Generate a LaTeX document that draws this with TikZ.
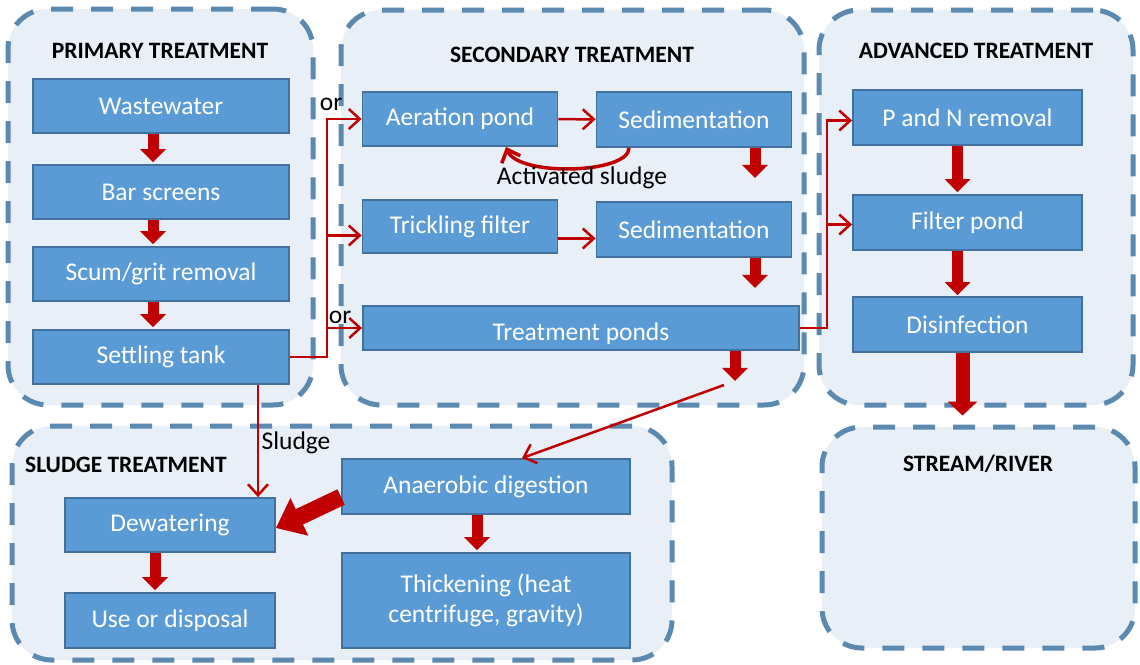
\documentclass[tikz,border=0pt]{standalone}
\usepackage{fontspec}
\setmainfont{Carlito}
\usetikzlibrary{arrows.meta}
\definecolor{zoneline}{RGB}{91,137,176}
\definecolor{zonefill}{RGB}{233,239,247}
\definecolor{boxfill}{RGB}{91,155,213}
\definecolor{boxline}{RGB}{65,113,156}
\definecolor{flowred}{RGB}{192,0,0}
\tikzset{>=stealth,
  zone/.style={draw=zoneline, fill=zonefill, line width=5pt, dash pattern=on 22pt off 18pt, rounded corners=40pt, inner sep=0pt},
  zonetitle/.style={font=\bfseries\fontsize{23.5}{28}\selectfont},
  box/.style={draw=boxline, fill=boxfill, line width=1.8pt, text=white, align=center, inner sep=0pt, font=\fontsize{25.5}{30}\selectfont},
  note/.style={font=\fontsize{25.5}{30}\selectfont},
  flow/.style={flowred, line width=2.5pt, -{Straight Barb[length=11pt,width=20pt]}},
  block/.style={flowred, line width=11pt, -{Triangle[width=25pt,length=13pt]}},
  bigblock/.style={flowred, line width=17pt, -{Triangle[width=40pt,length=26pt]}}}

\begin{document}
\begin{tikzpicture}[x=1pt,y=-1pt]
    \useasboundingbox (0,0) rectangle (1140,664);
    \node[zone, minimum width=305pt, minimum height=396pt] (primary) at (160.5,207) {};
    \node[zone, minimum width=463pt, minimum height=395pt] (secondary) at (572.5,207.5) {};
    \node[zone, minimum width=314pt, minimum height=395pt] (advanced) at (976,207.5) {};
    \node[zone, minimum width=660pt, minimum height=234pt] (sludge) at (342,543) {};
    \node[zone, minimum width=313pt, minimum height=221pt] (stream) at (978.5,537.5) {};
    \node[zonetitle] at (160,51) {PRIMARY TREATMENT};
    \node[zonetitle] at (572,55) {SECONDARY TREATMENT};
    \node[zonetitle] at (976,51) {ADVANCED TREATMENT};
    \node[zonetitle] at (126,465) {SLUDGE TREATMENT};
    \node[zonetitle] at (978,464) {STREAM/RIVER};

    \node[box, minimum width=256pt, minimum height=54pt] (waste) at (161,106) {Wastewater};
    \node[box, minimum width=256pt, minimum height=54pt] (bar) at (161,192) {Bar screens};
    \node[box, minimum width=256pt, minimum height=54pt] (scum) at (161,274) {Scum/grit removal};
    \node[box, minimum width=256pt, minimum height=54pt] (settle) at (161,357) {Settling tank};
    \node[box, minimum width=195pt, minimum height=54pt] (aeration) at (460,119) {Aeration pond};
    \node[box, minimum width=195pt, minimum height=55pt] (sed1) at (694,119.5) {Sedimentation};
    \node[box, minimum width=195pt, minimum height=53pt] (trickle) at (460,226.5) {Trickling filter};
    \node[box, minimum width=195pt, minimum height=55pt] (sed2) at (694,229.5) {Sedimentation};
    \node[box, minimum width=436pt, minimum height=44pt] (ponds) at (581,328) {};
    \begin{scope}
      \clip ([shift={(1pt,6pt)}]ponds.south west) rectangle (ponds.north east);
      \node[box, draw=none, fill=none] (pondstext) at ([yshift=-6pt]ponds.center) {Treatment ponds};
    \end{scope}
    \node[box, minimum width=229pt, minimum height=55pt] (pn) at (967.5,117.5) {P and N removal};
    \node[box, minimum width=229pt, minimum height=55pt] (filter) at (967.5,222.5) {Filter pond};
    \node[box, minimum width=229pt, minimum height=55pt] (disinf) at (967.5,324.5) {Disinfection};
    \node[box, minimum width=288pt, minimum height=55pt] (anaer) at (486,486.5) {Anaerobic digestion};
    \node[box, minimum width=210pt, minimum height=54pt] (dewater) at (170,525) {Dewatering};
    \node[box, minimum width=210pt, minimum height=55pt] (use) at (170,620.5) {Use or disposal};
    \node[box, minimum width=288pt, minimum height=95pt] (thick) at (486,600.5) {Thickening (heat\\centrifuge, gravity)};

    \coordinate (split1) at ([xshift=37pt]settle.east);
    \coordinate (split2) at ([xshift=27pt]ponds.east);
    \coordinate (pondsout) at (724,385);
    \coordinate (streamin) at ([yshift=9pt]stream.north);
    \draw[flow] (settle.east) -- (split1) |- (aeration.west);
    \draw[flow] ([yshift=-9pt]trickle.west -| split1) -- ([yshift=-9pt]trickle.west);
    \draw[flow] (split1 |- ponds.west) -- (ponds.west);
    \node[note] (or1) at (331,104) {or};
    \node[note] (or2) at (340,317) {or};
    \draw[flow] (aeration) -- (sed1);
    \draw[flow] ([yshift=-12pt]trickle.east) -- ([yshift=-12pt]trickle.east -| sed2.west);
    \draw[flow, line width=3.5pt] ([xshift=-65pt]sed1.south) .. controls +(0,26) and +(12,30) .. ([xshift=46pt]aeration.south);
    \node[note] (actsludge) at (582,178) {Activated sludge};
    \draw[flow] (ponds.east) -- (split2) |- ([yshift=-3pt]pn.west);
    \draw[flow] ([yshift=-2pt]split2 |- filter.west) -- ([yshift=-2pt]filter.west);
    \draw[flow] ([xshift=97pt]settle.south) -- ([xshift=97pt]settle.south |- dewater.north);
    \node[note] (sludgelabel) at (296,443) {Sludge};
    \draw[flow] (pondsout) -- ([xshift=36pt]anaer.north);

    \draw[block] ([xshift=-8pt]waste.south) -- ([xshift=-8pt,yshift=2pt]bar.north);
    \draw[block] ([xshift=-8pt]bar.south) -- ([xshift=-8pt,yshift=2pt]scum.north);
    \draw[block] ([xshift=-8pt]scum.south) -- ([xshift=-8pt,yshift=2pt]settle.north);
    \draw[block] ([xshift=61pt]sed1.south) -- ([xshift=61pt,yshift=-30pt]sed1.south);
    \draw[block] ([xshift=61pt]sed2.south) -- ([xshift=61pt,yshift=-30pt]sed2.south);
    \draw[block] ([xshift=154pt]ponds.south) -- ([xshift=154pt,yshift=-30pt]ponds.south);
    \draw[block] ([xshift=-10pt]pn.south) -- ([xshift=-10pt,yshift=2pt]filter.north);
    \draw[block] ([xshift=-10pt]filter.south) -- ([xshift=-10pt,yshift=1pt]disinf.north);
    \draw[block, line width=14pt, -{Triangle[width=29pt,length=14pt]}] ([xshift=-5pt]disinf.south) -- ([xshift=-5pt]disinf.south |- streamin);
    \draw[block] ([xshift=-9pt]anaer.south) -- ([xshift=-9pt,yshift=2pt]thick.north);
    \draw[block] ([xshift=-15pt]dewater.south) -- ([xshift=-15pt,yshift=2pt]use.north);
    \draw[bigblock] ([yshift=-10.5pt]anaer.west) -- ([yshift=-3pt]dewater.east);
\end{tikzpicture}
\end{document}
